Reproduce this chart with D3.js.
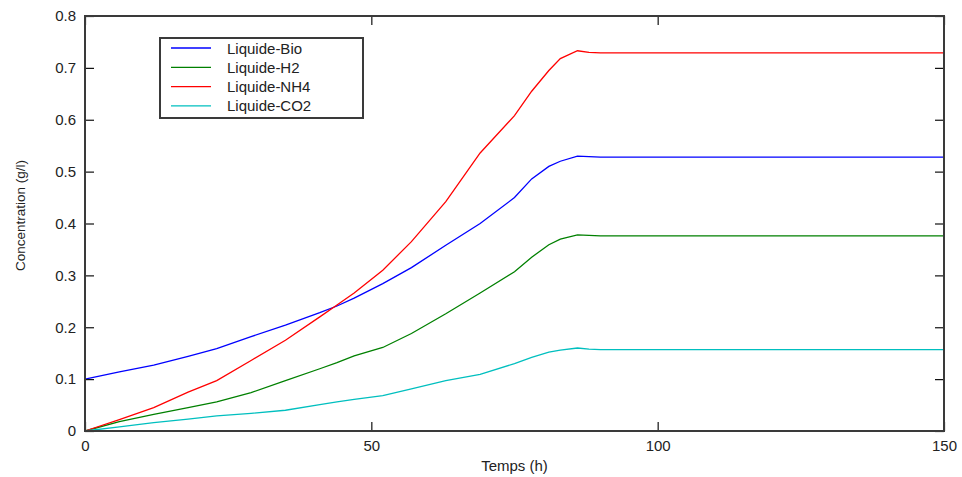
<!DOCTYPE html>
<html>
<head>
<meta charset="utf-8">
<script src="https://cdn.jsdelivr.net/npm/d3@7"></script>
<style>
  body { margin: 0; background: #fff; }
  svg text { font-family: "Liberation Sans", Arial, sans-serif; fill: #222; }
</style>
</head>
<body>
<div id="chart"></div>
<script>
// time (h)
const temps = [0, 6, 12, 18, 23, 29, 35, 41, 44, 47, 52, 57, 63, 69, 75, 78, 81, 83, 86, 88, 90, 150];
const bio = [0.100, 0.114, 0.127, 0.144, 0.159, 0.182, 0.204, 0.228, 0.241, 0.256, 0.284, 0.315, 0.358, 0.400, 0.450, 0.486, 0.510, 0.520, 0.530, 0.529, 0.528, 0.528];
const h2 = [0, 0.018, 0.032, 0.045, 0.056, 0.074, 0.097, 0.120, 0.132, 0.145, 0.161, 0.188, 0.226, 0.266, 0.307, 0.335, 0.359, 0.370, 0.378, 0.377, 0.376, 0.376];
const nh4 = [0, 0.022, 0.045, 0.075, 0.097, 0.136, 0.175, 0.220, 0.243, 0.266, 0.310, 0.365, 0.442, 0.536, 0.608, 0.655, 0.695, 0.718, 0.733, 0.730, 0.729, 0.729];
const co2 = [0, 0.008, 0.016, 0.023, 0.029, 0.034, 0.040, 0.051, 0.056, 0.061, 0.068, 0.081, 0.097, 0.109, 0.130, 0.142, 0.152, 0.156, 0.160, 0.158, 0.157, 0.157];

const seriesNames = ["Liquide-Bio", "Liquide-H2", "Liquide-NH4", "Liquide-CO2"];
const seriesValues = [bio, h2, nh4, co2];
const colors = ["#0000ff", "#008000", "#ff0000", "#00bfbf"];

const xTicks = [0, 50, 100, 150];
const yTicks = [0, 0.1, 0.2, 0.3, 0.4, 0.5, 0.6, 0.7, 0.8];

const width = 962, height = 477;
const margin = { top: 16, right: 18, bottom: 46, left: 85 };
const w = width - margin.left - margin.right;
const h = height - margin.top - margin.bottom;

const svg = d3.select("#chart").append("svg")
  .attr("width", width)
  .attr("height", height);

const g = svg.append("g")
  .attr("transform", `translate(${margin.left},${margin.top})`);

const x = d3.scaleLinear().domain([0, 150]).range([0, w]);
const y = d3.scaleLinear().domain([0, 0.8]).range([h, 0]);

// lines
const line = d3.line()
  .x((d, i) => x(temps[i]))
  .y(d => y(d));

seriesValues.forEach((vals, k) => {
  g.append("path")
    .datum(vals)
    .attr("fill", "none")
    .attr("stroke", colors[k])
    .attr("stroke-width", 1.3)
    .attr("d", line);
});

// axes with inward ticks
const fmtY = d => d === 0 ? "0" : d3.format(".1f")(d);
const tickLen = 9;

const axB = g.append("g").attr("transform", `translate(0,${h})`)
  .call(d3.axisBottom(x).tickValues(xTicks).tickSizeInner(-tickLen).tickSizeOuter(0).tickPadding(9));
const axT = g.append("g")
  .call(d3.axisTop(x).tickValues(xTicks).tickSizeInner(-tickLen).tickSizeOuter(0).tickFormat(""));
const axL = g.append("g")
  .call(d3.axisLeft(y).tickValues(yTicks).tickSizeInner(-tickLen).tickSizeOuter(0).tickPadding(9).tickFormat(fmtY));
const axR = g.append("g").attr("transform", `translate(${w},0)`)
  .call(d3.axisRight(y).tickValues(yTicks).tickSizeInner(-tickLen).tickSizeOuter(0).tickFormat(""));

[axB, axT, axL, axR].forEach(a => {
  a.select(".domain").remove();
  a.selectAll(".tick line").attr("stroke", "#111").attr("stroke-width", 1.2);
  a.selectAll("text").attr("font-size", 15).attr("fill", "#222")
    .attr("font-family", "Liberation Sans, Arial, sans-serif");
});

// frame
g.append("rect")
  .attr("width", w).attr("height", h)
  .attr("fill", "none")
  .attr("stroke", "#3a3a3a")
  .attr("stroke-width", 2);

// axis titles
g.append("text")
  .attr("x", w / 2).attr("y", h + 40)
  .attr("text-anchor", "middle")
  .attr("font-size", 15)
  .text("Temps (h)");

g.append("text")
  .attr("transform", `translate(${-60},${h / 2 - 8}) rotate(-90)`)
  .attr("text-anchor", "middle")
  .attr("font-size", 13.5)
  .text("Concentration (g/l)");

// legend
const lg = svg.append("g").attr("transform", "translate(160,38)");
lg.append("rect")
  .attr("width", 203).attr("height", 80)
  .attr("fill", "#fff")
  .attr("stroke", "#3a3a3a")
  .attr("stroke-width", 2);

seriesNames.forEach((name, k) => {
  const yy = 10 + k * 19.3;
  lg.append("line")
    .attr("x1", 11).attr("x2", 51)
    .attr("y1", yy).attr("y2", yy)
    .attr("stroke", colors[k])
    .attr("stroke-width", 1.3);
  lg.append("text")
    .attr("x", 67).attr("y", yy + 5.5)
    .attr("font-size", 15)
    .text(name);
});
</script>
</body>
</html>
